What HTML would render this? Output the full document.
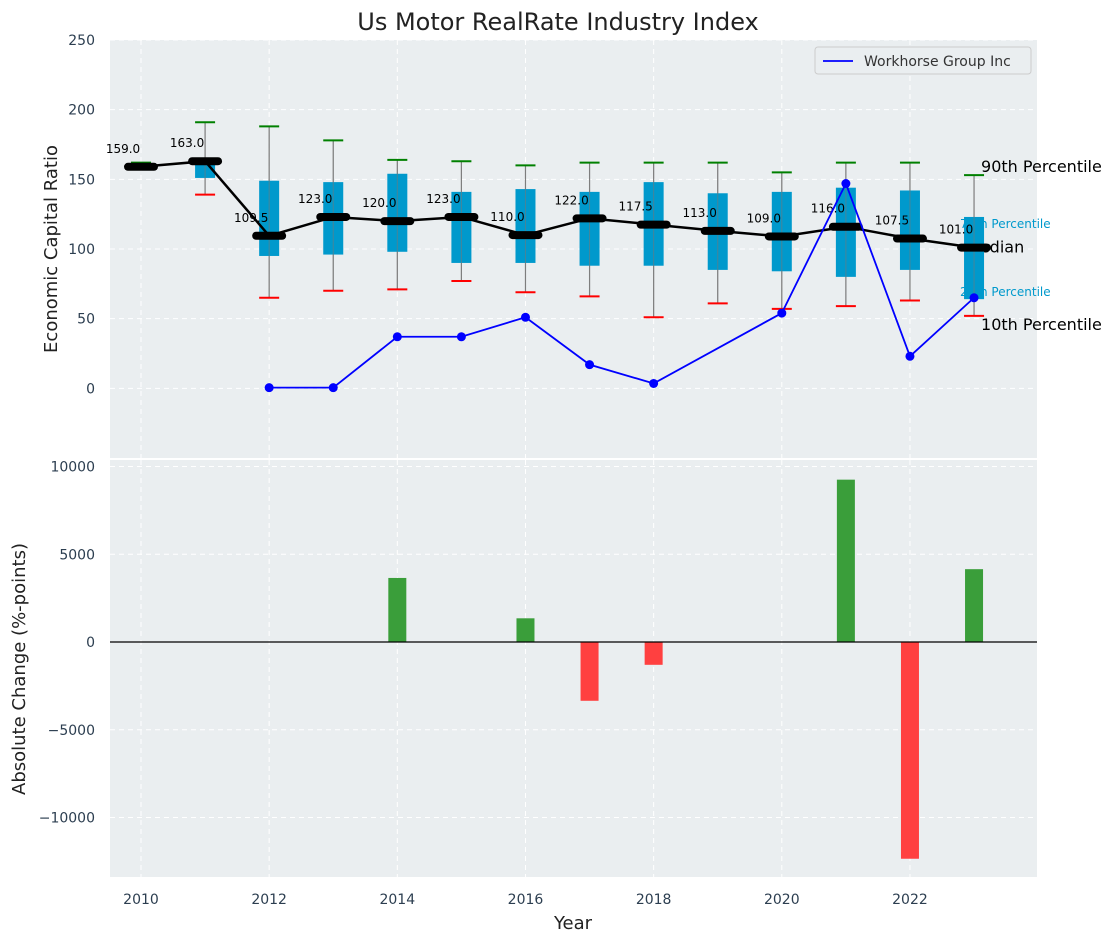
<!DOCTYPE html>
<html><head><meta charset="utf-8"><style>
body{margin:0;background:#fff}
text{font-family:"DejaVu Sans","Liberation Sans",sans-serif}
</style></head><body>
<svg id="c" width="1117" height="942" xmlns="http://www.w3.org/2000/svg"></svg>
<script>
const years=[2010,2011,2012,2013,2014,2015,2016,2017,2018,2019,2020,2021,2022,2023];
const medians=[159,163,109.5,123,120,123,110,122,117.5,113,109,116,107.5,101];
const q1=[159,151,95,96,98,90,90,88,88,85,84,80,85,64];
const q3=[162,163,149,148,154,141,143,141,148,140,141,144,142,123];
const p10=[159,139,65,70,71,77,69,66,51,61,57,59,63,52];
const p90=[162,191,188,178,164,163,160,162,162,162,155,162,162,153];
const lineYears=[2012,2013,2014,2015,2016,2017,2018,2020,2021,2022,2023];
const lineVals=[0.5,0.5,37,37,51,17,3.5,54,147,23,65];
const barYears=[2014,2016,2017,2018,2021,2022,2023];
const barVals=[3650,1350,-3350,-1300,9250,-12350,4150];
const topTicks=[0,50,100,150,200,250];
const botTicks=[-10000,-5000,0,5000,10000];
const xTicks=[2010,2012,2014,2016,2018,2020,2022];

const svg=document.getElementById('c');
const NS='http://www.w3.org/2000/svg';
function el(tag,attrs,parent){const e=document.createElementNS(NS,tag);for(const k in attrs)e.setAttribute(k,attrs[k]);(parent||svg).appendChild(e);return e;}
const L=110,R=1037;
const X=v=>141+(v-2010)*64.08;
const T0=40,T1=458;
const Yt=v=>T0+(250-v)/300*(T1-T0);
const B0=460,B1=877;
const Yb=v=>642-v*0.01755;

let r=el('rect',{x:L,y:T0,width:R-L,height:T1-T0,fill:'#eaeef0'});

r=el('rect',{x:L,y:B0,width:R-L,height:B1-B0,fill:'#eaeef0'});


xTicks.forEach(t=>{
 el('line',{x1:X(t),x2:X(t),y1:T0,y2:T1,stroke:'#fff','stroke-dasharray':'5,4','stroke-width':1});
 el('line',{x1:X(t),x2:X(t),y1:B0,y2:B1,stroke:'#fff','stroke-dasharray':'5,4','stroke-width':1});
 const tx=el('text',{x:X(t),y:904,'text-anchor':'middle','font-size':14,fill:'#2c3e50'});tx.textContent=t;
 
});
topTicks.forEach(t=>{
 el('line',{x1:L,x2:R,y1:Yt(t),y2:Yt(t),stroke:'#fff','stroke-dasharray':'5,4'});
 const tx=el('text',{x:95,y:Yt(t)+5,'text-anchor':'end','font-size':14,fill:'#2c3e50'});tx.textContent=t;
 
});
botTicks.forEach(t=>{
 el('line',{x1:L,x2:R,y1:Yb(t),y2:Yb(t),stroke:'#fff','stroke-dasharray':'5,4'});
 const tx=el('text',{x:95,y:Yb(t)+5,'text-anchor':'end','font-size':14,fill:'#2c3e50'});tx.textContent=t.toString().replace('-','−');
 
});

// annotations (drawn beneath boxes)
const xa=X(2023);
[['90th Percentile',xa+7,Yt(p90[13])-3,16,'#000'],['75th Percentile',xa-14,Yt(q3[13])+11,12,'#0099cc'],['Median',xa-8,Yt(medians[13])+5,16,'#000'],['25th Percentile',xa-14,Yt(q1[13])-3,12,'#0099cc'],['10th Percentile',xa+7,Yt(p10[13])+14,16,'#000']].forEach(a=>{
 const t=el('text',{x:a[1],y:a[2],'font-size':a[3],fill:a[4]});t.textContent=a[0];
 
});

years.forEach((y,i)=>{
 const x=X(y);
 const g=el('g',{});
 
 el('line',{x1:x,x2:x,y1:Yt(p90[i]),y2:Yt(p10[i]),stroke:'#888','stroke-width':1.2},g);
 el('rect',{x:x-10,y:Yt(q3[i]),width:20,height:Yt(q1[i])-Yt(q3[i]),fill:'#0099cc'},g);
 el('line',{x1:x,x2:x,y1:Yt(p90[i]),y2:Yt(p10[i]),stroke:'#777','stroke-width':1,opacity:0.6},g);
 el('line',{x1:x-10,x2:x+10,y1:Yt(p90[i]),y2:Yt(p90[i]),stroke:'green','stroke-width':2},g);
 if(p10[i]!==medians[i]) el('line',{x1:x-10,x2:x+10,y1:Yt(p10[i]),y2:Yt(p10[i]),stroke:'red','stroke-width':2},g);
});
let pts=years.map((y,i)=>X(y)+','+Yt(medians[i])).join(' ');
let pl=el('polyline',{points:pts,fill:'none',stroke:'#000','stroke-width':2.5});

years.forEach((y,i)=>{
 const m=el('line',{x1:X(y)-13,x2:X(y)+13,y1:Yt(medians[i]),y2:Yt(medians[i]),stroke:'#000','stroke-width':8,'stroke-linecap':'round'});
 
 const t=el('text',{x:X(y)-18,y:Yt(medians[i])-14,'text-anchor':'middle','font-size':12,fill:'#000'});t.textContent=medians[i].toFixed(1);
 
});
pts=lineYears.map((y,i)=>X(y)+','+Yt(lineVals[i])).join(' ');
pl=el('polyline',{points:pts,fill:'none',stroke:'blue','stroke-width':1.8});

lineYears.forEach((y,i)=>{
 const c=el('circle',{cx:X(y),cy:Yt(lineVals[i]),r:4.5,fill:'blue'});
 
});
const lg=el('g',{});
el('rect',{x:815,y:47,width:216,height:27,rx:3,fill:'#eaeef0',stroke:'#ccc'},lg);
el('line',{x1:823,x2:853,y1:61,y2:61,stroke:'blue','stroke-width':1.8},lg);
let t=el('text',{x:864,y:66,'font-size':14,fill:'#333'},lg);t.textContent='Workhorse Group Inc';

barYears.forEach((y,i)=>{
 const v=barVals[i];
 const b=el('rect',{x:X(y)-9,y:Math.min(Yb(v),Yb(0)),width:18,height:Math.abs(Yb(v)-Yb(0)),fill:v>=0?'#3a9e3a':'#ff4040'});
 
});
el('line',{x1:L,x2:R,y1:Yb(0),y2:Yb(0),stroke:'#000','stroke-width':1.2});

t=el('text',{x:558,y:30,'text-anchor':'middle','font-size':24,fill:'#222'});t.textContent='Us Motor RealRate Industry Index';

t=el('text',{x:0,y:0,'text-anchor':'middle','font-size':18,fill:'#222',transform:'translate(57,249) rotate(-90)'});t.textContent='Economic Capital Ratio';

t=el('text',{x:0,y:0,'text-anchor':'middle','font-size':18,fill:'#222',transform:'translate(25,669) rotate(-90)'});t.textContent='Absolute Change (%-points)';

t=el('text',{x:573,y:929,'text-anchor':'middle','font-size':18,fill:'#222'});t.textContent='Year';

</script>
</body></html>
